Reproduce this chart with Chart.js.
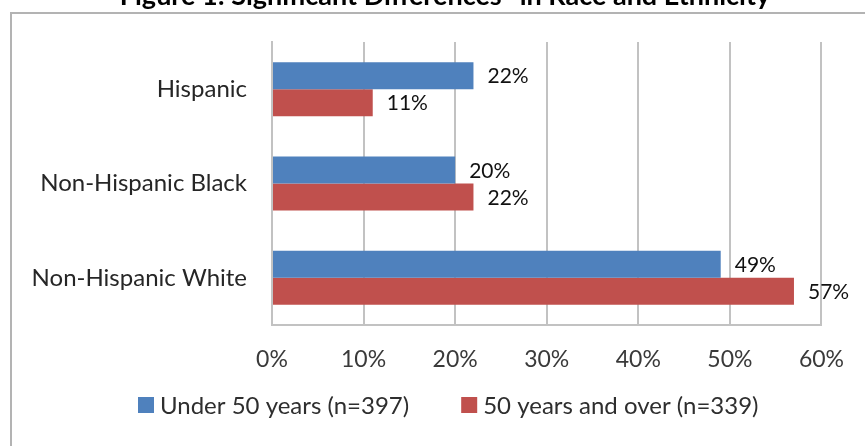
<!DOCTYPE html>
<html>
<head>
<meta charset="utf-8">
<style>
  html, body { margin: 0; padding: 0; background: #ffffff; }
  #wrap { width: 865px; height: 446px; position: relative; overflow: hidden; }
  canvas { display: block; }
</style>
<script src="https://cdn.jsdelivr.net/npm/chart.js@4/dist/chart.umd.min.js"></script>
</head>
<body>
<div id="wrap"><canvas id="c" width="865" height="446"></canvas></div>
<script>
// Race / ethnicity groups and the share of each age group (percent)
const categories = ['Hispanic', 'Non-Hispanic Black', 'Non-Hispanic White'];
const under50 = [22, 20, 49];
const over50 = [11, 22, 57];
const seriesNames = ['Under 50 years (n=397)', '50 years and over (n=339)'];
const tickValues = [0, 10, 20, 30, 40, 50, 60];
const titleText = 'Figure 1: Significant Differences* in Race and Ethnicity';

const BLUE = '#4F81BD';
const RED = '#C0504D';
const GRID = '#c2c2c2';
const FONT = 'Lato, "Open Sans", sans-serif';

// White page, grey frame and the figure heading
const framePlugin = {
  id: 'frame',
  beforeDraw(chart) {
    const ctx = chart.ctx;
    ctx.save();
    ctx.fillStyle = '#ffffff';
    ctx.fillRect(0, 0, chart.width, chart.height);
    ctx.strokeStyle = '#b3b3b3';
    ctx.lineWidth = 2;
    ctx.beginPath();
    ctx.moveTo(11, chart.height);
    ctx.lineTo(11, 13);
    ctx.lineTo(chart.width, 13);
    ctx.stroke();
    ctx.fillStyle = '#000000';
    ctx.font = 'bold 27px ' + FONT;
    ctx.textAlign = 'center';
    ctx.textBaseline = 'alphabetic';
    ctx.fillText(titleText, 445, 5);
    ctx.restore();
  }
};

// Percent labels to the right of each bar
const valueLabels = {
  id: 'valueLabels',
  afterDatasetsDraw(chart) {
    const ctx = chart.ctx;
    ctx.save();
    ctx.font = '21px ' + FONT;
    ctx.fillStyle = '#111111';
    ctx.textAlign = 'left';
    ctx.textBaseline = 'middle';
    chart.data.datasets.forEach((ds, i) => {
      chart.getDatasetMeta(i).data.forEach((bar, j) => {
        ctx.fillText(ds.data[j] + '%', bar.x + 14, bar.y + 1);
      });
    });
    ctx.restore();
  }
};

// Legend row under the axis
const legendRow = {
  id: 'legendRow',
  afterDraw(chart) {
    const ctx = chart.ctx;
    ctx.save();
    ctx.font = '24px ' + FONT;
    ctx.textBaseline = 'middle';
    ctx.textAlign = 'left';
    let x = 138;
    const cy = 405;
    chart.data.datasets.forEach((ds) => {
      ctx.fillStyle = ds.backgroundColor;
      ctx.fillRect(x, cy - 8, 16, 16);
      x += 16 + 6;
      ctx.fillStyle = '#2e2e2e';
      ctx.fillText(ds.label, x, cy + 1);
      x += ctx.measureText(ds.label).width + 52;
    });
    ctx.restore();
  }
};

function build() {
  new Chart(document.getElementById('c'), {
    type: 'bar',
    data: {
      labels: categories,
      datasets: [
        { label: seriesNames[0], data: under50, backgroundColor: BLUE, borderWidth: 0 },
        { label: seriesNames[1], data: over50, backgroundColor: RED, borderWidth: 0 }
      ]
    },
    options: {
      indexAxis: 'y',
      responsive: false,
      animation: false,
      devicePixelRatio: 1,
      layout: { padding: { top: 42, left: 20, right: 40, bottom: 76 } },
      categoryPercentage: 0.573,
      barPercentage: 1.0,
      plugins: {
        legend: { display: false },
        title: { display: false },
        tooltip: { enabled: false }
      },
      scales: {
        x: {
          min: 0,
          max: 60,
          afterBuildTicks(scale) {
            scale.ticks = tickValues.map(v => ({ value: v }));
          },
          afterFit(scale) { scale.height = 45; },
          grid: { color: GRID, lineWidth: 2, drawTicks: false },
          border: { display: true, color: GRID, width: 2 },
          ticks: {
            padding: 21,
            color: '#3a3a3a',
            font: { family: FONT, size: 23 },
            callback: (v) => v + '%'
          }
        },
        y: {
          afterFit(scale) { scale.width = 252; },
          grid: { display: false, drawTicks: false },
          border: { display: true, color: GRID, width: 2 },
          ticks: {
            padding: 25,
            color: '#262626',
            font: { family: FONT, size: 24 }
          }
        }
      }
    },
    plugins: [framePlugin, valueLabels, legendRow]
  });
}

const fontsReady = document.fonts
  ? Promise.all([
      document.fonts.load('21px Lato'),
      document.fonts.load('bold 27px Lato')
    ]).catch(() => null)
  : Promise.resolve();
fontsReady.then(build);
</script>
</body>
</html>
